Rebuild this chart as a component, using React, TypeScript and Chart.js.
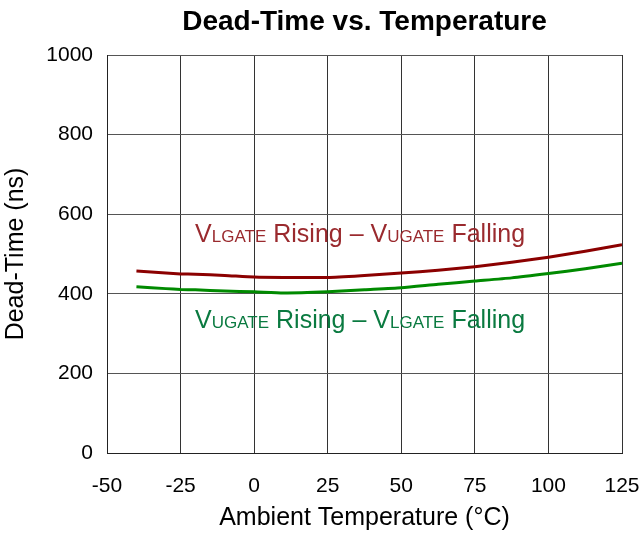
import { useEffect, useRef } from "react";
import { Chart, registerables } from "chart.js";

Chart.register(...registerables);

// ---- data ----
const temperaturesC = [-40, -30, -25, -20, -10, 0, 10, 25, 37.5, 50, 62.5, 75, 87.5, 100, 112.5, 125];
const lgateRisingNs = [457, 452, 450, 449, 446, 442, 441, 441, 446, 452, 459, 468, 479, 492, 507, 523];
const ugateRisingNs = [418, 413, 411, 410, 407, 405, 402, 405, 410, 415, 424, 432, 440, 451, 463, 477];
const xTickValues = [-50, -25, 0, 25, 50, 75, 100, 125];
const yTickValues = [0, 200, 400, 600, 800, 1000];

const chartTitle = "Dead-Time vs. Temperature";
const xAxisTitle = "Ambient Temperature (°C)";
const yAxisTitle = "Dead-Time (ns)";

const RED_LINE = "#8b0000";
const GREEN_LINE = "#008a00";
const RED_TEXT = "#9a2a2e";
const GREEN_TEXT = "#0a7a40";

type Part = [string, boolean];
const curveLabels: { parts: Part[]; color: string; xCenter: number; yBaseline: number }[] = [
  {
    parts: [["V", true], ["LGATE", false], [" Rising – V", true], ["UGATE", false], [" Falling", true]],
    color: RED_TEXT,
    xCenter: 36,
    yBaseline: 530,
  },
  {
    parts: [["V", true], ["UGATE", false], [" Rising – V", true], ["LGATE", false], [" Falling", true]],
    color: GREEN_TEXT,
    xCenter: 36,
    yBaseline: 314,
  },
];

const FONT = "Arial, 'Liberation Sans', Helvetica, sans-serif";

const labelPlugin = {
  id: "curveLabels",
  afterDatasetsDraw(chart: any) {
    const { ctx, scales } = chart;
    const xs = scales.x;
    const ys = scales.y;
    ctx.save();
    ctx.textBaseline = "alphabetic";
    ctx.textAlign = "left";
    for (const lab of curveLabels) {
      const fontFor = (big: boolean) => `${big ? 25 : 17}px ${FONT}`;
      let total = 0;
      for (const [t, big] of lab.parts) {
        ctx.font = fontFor(big);
        total += ctx.measureText(t).width;
      }
      let px = xs.getPixelForValue(lab.xCenter) - total / 2;
      const py = ys.getPixelForValue(lab.yBaseline);
      ctx.fillStyle = lab.color;
      for (const [t, big] of lab.parts) {
        ctx.font = fontFor(big);
        ctx.fillText(t, px, py);
        px += ctx.measureText(t).width;
      }
    }
    ctx.restore();
  },
};

export default function App() {
  const ref = useRef<HTMLCanvasElement | null>(null);

  useEffect(() => {
    if (!ref.current) return;
    const chart = new Chart(ref.current, {
      type: "line",
      data: {
        datasets: [
          {
            label: "VLGATE Rising – VUGATE Falling",
            data: temperaturesC.map((t, i) => ({ x: t, y: lgateRisingNs[i] })),
            borderColor: RED_LINE,
            borderWidth: 3,
            pointRadius: 0,
            tension: 0.2,
            fill: false,
          },
          {
            label: "VUGATE Rising – VLGATE Falling",
            data: temperaturesC.map((t, i) => ({ x: t, y: ugateRisingNs[i] })),
            borderColor: GREEN_LINE,
            borderWidth: 3,
            pointRadius: 0,
            tension: 0.2,
            fill: false,
          },
        ],
      },
      options: {
        responsive: false,
        animation: false,
        layout: { padding: { left: 0, right: 18, top: 0, bottom: 0 } },
        plugins: {
          legend: { display: false },
          tooltip: { enabled: false },
          title: {
            display: true,
            text: chartTitle,
            fullSize: false,
            color: "#000",
            font: { family: FONT, size: 28, weight: "bold", lineHeight: 1.2 },
            padding: { top: 5, bottom: 16.4 },
          },
        },
        scales: {
          x: {
            type: "linear",
            min: -50,
            max: 125,
            afterBuildTicks: (s: any) => {
              s.ticks = xTickValues.map((v) => ({ value: v }));
            },
            afterFit: (s: any) => {
              s.height = 80;
              s.paddingLeft = 0;
              s.paddingRight = 0;
            },
            ticks: {
              color: "#000",
              font: { family: FONT, size: 21 },
              padding: 21,
              maxRotation: 0,
              autoSkip: false,
              callback: (v: any) => String(v),
            },
            grid: { color: "#333", lineWidth: 1, drawTicks: false },
            border: { color: "#222", width: 1 },
            title: {
              display: true,
              text: xAxisTitle,
              color: "#000",
              font: { family: FONT, size: 25, lineHeight: 1.2 },
              padding: { top: 0, bottom: 0 },
            },
          },
          y: {
            type: "linear",
            min: 0,
            max: 1000,
            afterBuildTicks: (s: any) => {
              s.ticks = yTickValues.map((v) => ({ value: v }));
            },
            afterFit: (s: any) => {
              s.width = 107;
              s.paddingTop = 0;
              s.paddingBottom = 0;
            },
            ticks: {
              color: "#000",
              font: { family: FONT, size: 21 },
              padding: 14,
              autoSkip: false,
              callback: (v: any) => String(v),
            },
            grid: { color: "#555", lineWidth: 1, drawTicks: false },
            border: { color: "#222", width: 1 },
            title: {
              display: true,
              text: yAxisTitle,
              color: "#000",
              font: { family: FONT, size: 25, lineHeight: 1.2 },
              padding: { top: 1, bottom: 0 },
            },
          },
        },
      },
      plugins: [labelPlugin],
    });
    return () => chart.destroy();
  }, []);

  return (
    <div style={{ position: "fixed", left: 0, top: 0, width: 640, height: 533, background: "#fff" }}>
      <canvas ref={ref} width={640} height={533} style={{ display: "block" }} />
    </div>
  );
}
